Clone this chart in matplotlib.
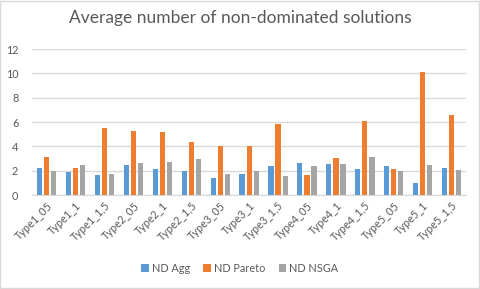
import numpy as np
import matplotlib
matplotlib.use("Agg")
from matplotlib import pyplot as plt
from matplotlib.patches import Rectangle

# Data
categories = ["Type1_05", "Type1_1", "Type1_1,5", "Type2_05", "Type2_1", "Type2_1,5",
              "Type3_05", "Type3_1", "Type3_1,5", "Type4_05", "Type4_1", "Type4_1,5",
              "Type5_05", "Type5_1", "Type5_1,5"]
nd_agg = [2.25, 1.89, 1.64, 2.47, 2.14, 1.97, 1.42, 1.73, 2.38, 2.63, 2.55, 2.14, 2.38, 0.99, 2.22]
nd_pareto = [3.15, 2.25, 5.53, 5.29, 5.18, 4.36, 4.03, 4.03, 5.84, 1.64, 3.04, 6.08, 2.14, 10.11, 6.58]
nd_nsga = [1.97, 2.47, 1.73, 2.63, 2.71, 2.99, 1.73, 1.97, 1.56, 2.38, 2.55, 3.12, 1.97, 2.47, 2.05]
yticks = [0, 2, 4, 6, 8, 10, 12]

plt.rcParams['font.family'] = ['Lato', 'DejaVu Sans']
text_col = '#595959'

fig = plt.figure(figsize=(4.8, 2.89), dpi=100)
ax = fig.add_axes([0.067, 0.325, 0.904, 0.505])

x = np.arange(len(categories))
w = 0.18
ax.bar(x - 0.245, nd_agg, w, color='#5B9BD5', label='ND Agg', zorder=3)
ax.bar(x, nd_pareto, w, color='#ED7D31', label='ND Pareto', zorder=3)
ax.bar(x + 0.245, nd_nsga, w, color='#A5A5A5', label='ND NSGA', zorder=3)

ax.set_xlim(-0.5, len(categories) - 0.5)
ax.set_ylim(0, 12)
ax.set_yticks(yticks)
ax.grid(axis='y', color='#D9D9D9', linewidth=1, zorder=0)
for s in ['top', 'right', 'left']:
    ax.spines[s].set_visible(False)
ax.spines['bottom'].set_color('#D9D9D9')
ax.tick_params(axis='both', length=0, colors=text_col, labelsize=7.8)
ax.tick_params(axis='y', pad=10)
ax.set_xticks(x)
ax.set_xticklabels(categories, rotation=45, ha='right', rotation_mode='anchor')

fig.suptitle('Average number of non-dominated solutions', y=0.965, fontsize=12.5, color=text_col)
fig.legend(loc='center', bbox_to_anchor=(0.5, 0.072), ncol=3, frameon=False,
           fontsize=7.8, handlelength=0.7, handleheight=0.7, handletextpad=0.3,
           columnspacing=1.2, labelcolor=text_col)

fig.patches.append(Rectangle((0.001, 0.002), 0.997, 0.995, transform=fig.transFigure,
                             fill=False, edgecolor='#D9D9D9', linewidth=1))

fig.savefig('out.png', dpi=100)
